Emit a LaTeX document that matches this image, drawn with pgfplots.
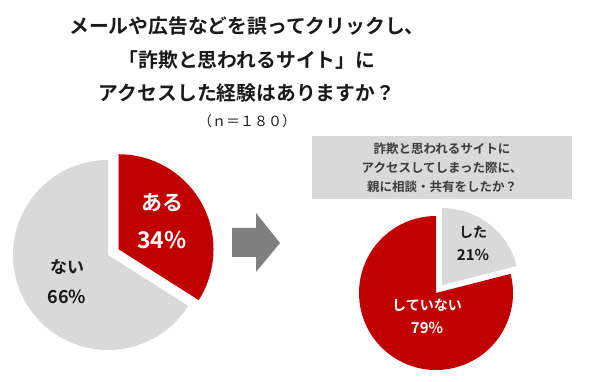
\documentclass[border=0pt]{standalone}
\usepackage{pgfplots}
\pgfplotsset{compat=1.18}
\usepackage{pgfplotstable}
\usepackage{fontspec}
\setmainfont{Noto Sans CJK JP}[BoldFont={Noto Sans CJK JP Bold}]
\definecolor{myred}{HTML}{C00000}
\definecolor{mygray}{HTML}{D9D9D9}
\definecolor{boxgray}{HTML}{D9D9D9}
\definecolor{arrowgray}{HTML}{7F7F7F}
\definecolor{txt}{HTML}{1A1A1A}

\pgfplotstableread{
label value
aru 34
nai 66
}\leftdata
\pgfplotstableread{
label value
shita 21
shiteinai 79
}\rightdata

\newcommand{\fs}[1]{\fontsize{#1}{#1}\selectfont}

\begin{document}
\begin{tikzpicture}
\pgfplotstablegetelem{0}{value}\of\leftdata \pgfmathsetmacro{\La}{\pgfplotsretval}
\pgfplotstablegetelem{0}{value}\of\rightdata \pgfmathsetmacro{\Ra}{\pgfplotsretval}
% left pie: first slice (red) from 90 clockwise
\pgfmathsetmacro{\Lend}{90-3.6*\La}
\pgfmathsetmacro{\Lmid}{90-1.8*\La}
% right pie: first slice (gray) from 90 clockwise
\pgfmathsetmacro{\Rend}{90-3.6*\Ra}
\pgfmathsetmacro{\Rmid}{90-1.8*\Ra}
\path[use as bounding box] (0,0) rectangle (600pt,382pt);
\begin{axis}[
  x=1pt, y=1pt, xmin=0, xmax=600, ymin=0, ymax=382,
  y dir=reverse, hide axis, clip=false, enlargelimits=false,
  at={(0,0)}, anchor=south west]
% ---- left pie ----
\fill[mygray] (axis cs:108,255) -- ++(\Lend:95pt) arc[start angle=\Lend, end angle=-270, radius=95pt] -- cycle;
\fill[myred] (axis cs:108,255) ++(\Lmid:12pt) -- ++(90:95pt) arc[start angle=90, end angle=\Lend, radius=95pt] -- cycle;
% ---- right pie ----
\fill[myred] (axis cs:436,293) -- ++(\Rend:77pt) arc[start angle=\Rend, end angle=-270, radius=77pt] -- cycle;
\fill[mygray] (axis cs:436,293) ++(\Rmid:10pt) -- ++(90:77pt) arc[start angle=90, end angle=\Rend, radius=77pt] -- cycle;
% ---- arrow ----
\fill[arrowgray] (axis cs:232,228) -- (axis cs:256,228) -- (axis cs:256,213) -- (axis cs:280,243) -- (axis cs:256,272) -- (axis cs:256,257) -- (axis cs:232,257) -- cycle;
% ---- box ----
\fill[boxgray] (axis cs:312,136) rectangle (axis cs:572,199);
\node[txt!85, font=\bfseries\fs{12.5}] at (axis cs:442,149) {詐欺と思われるサイトに};
\node[txt!85, font=\bfseries\fs{12.5}] at (axis cs:442,168) {アクセスしてしまった際に、};
\node[txt!85, font=\bfseries\fs{12.5}] at (axis cs:442,187) {親に相談・共有をしたか？};
% ---- title ----
\node[txt, font=\bfseries\fs{19.8}] at (axis cs:247,26) {メールや広告などを誤ってクリックし、};
\node[txt, font=\bfseries\fs{19.8}] at (axis cs:247,60) {「詐欺と思われるサイト」に};
\node[txt, font=\bfseries\fs{19.8}] at (axis cs:247,93) {アクセスした経験はありますか？};
\node[txt, font=\fs{14}] at (axis cs:247,121) {（ｎ＝１８０）};
% ---- labels ----
\node[white, font=\bfseries\fs{21}] at (axis cs:162,203) {ある};
\node[white, font=\bfseries\fs{23}] at (axis cs:162,240) {34\%};
\node[txt, font=\bfseries\fs{17}] at (axis cs:67,267) {ない};
\node[txt, font=\bfseries\fs{18}] at (axis cs:67,297) {66\%};
\node[txt, font=\bfseries\fs{14}] at (axis cs:473,232) {した};
\node[txt, font=\bfseries\fs{15}] at (axis cs:473,255) {21\%};
\node[white, font=\bfseries\fs{14}] at (axis cs:427,305) {していない};
\node[white, font=\bfseries\fs{15}] at (axis cs:427,328) {79\%};
\end{axis}
\end{tikzpicture}
\end{document}
